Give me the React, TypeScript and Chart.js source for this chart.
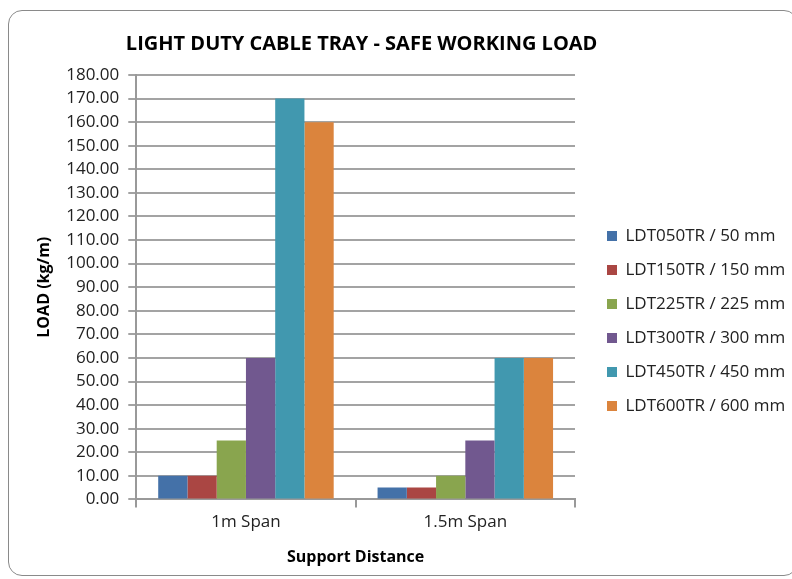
import { useEffect, useRef } from "react";
import { Chart, registerables } from "chart.js";

Chart.register(...registerables);

const chartTitle = "LIGHT DUTY CABLE TRAY - SAFE WORKING LOAD";
const categories = ["1m Span", "1.5m Span"];
const seriesNames = [
  "LDT050TR / 50 mm",
  "LDT150TR / 150 mm",
  "LDT225TR / 225 mm",
  "LDT300TR / 300 mm",
  "LDT450TR / 450 mm",
  "LDT600TR / 600 mm",
];
const ldt050 = [10, 5];
const ldt150 = [10, 5];
const ldt225 = [25, 10];
const ldt300 = [60, 25];
const ldt450 = [170, 60];
const ldt600 = [160, 60];
const seriesValues = [ldt050, ldt150, ldt225, ldt300, ldt450, ldt600];
const seriesColors = ["#4471A8", "#AA4643", "#89A54E", "#71588F", "#4198AF", "#DB843D"];
const yMin = 0;
const yMax = 180;
const yStep = 10;

const FONT = "'Open Sans', 'DejaVu Sans', sans-serif";

const titlePlugin = {
  id: "customTitle",
  afterDraw(chart: any) {
    const { ctx, chartArea } = chart;
    ctx.save();
    ctx.font = `bold 20px ${FONT}`;
    ctx.fillStyle = "#000";
    ctx.textAlign = "center";
    ctx.textBaseline = "middle";
    ctx.fillText(chartTitle, (chartArea.left + chartArea.right) / 2 + 6, 44);
    ctx.restore();
  },
};

export default function App() {
  const ref = useRef<HTMLCanvasElement | null>(null);

  useEffect(() => {
    if (!ref.current) return;
    const chart = new Chart(ref.current, {
      type: "bar",
      data: {
        labels: categories,
        datasets: seriesNames.map((name, i) => ({
          label: name,
          data: seriesValues[i],
          backgroundColor: seriesColors[i],
          borderWidth: 0,
          barPercentage: 1,
          categoryPercentage: 0.8,
        })),
      },
      options: {
        animation: false,
        responsive: false,
        layout: { padding: { top: 75, left: 35, right: 0, bottom: 12 } },
        plugins: {
          title: { display: false },
          tooltip: { enabled: false },
          legend: {
            position: "right",
            maxWidth: 202,
            labels: {
              boxWidth: 10,
              boxHeight: 10,
              padding: 17,
              color: "#222",
              font: { family: FONT, size: 17 },
            },
          },
        },
        scales: {
          x: {
            offset: true,
            grid: {
              offset: true,
              drawOnChartArea: false,
              drawTicks: true,
              tickLength: 8,
              color: "#999",
              lineWidth: 2,
            },
            border: { color: "#999", width: 2 },
            ticks: { color: "#222", font: { family: FONT, size: 17 }, padding: 5 },
            title: {
              display: true,
              text: "Support Distance",
              color: "#000",
              font: { family: FONT, size: 16, weight: "bold" },
              padding: { top: 10, bottom: 0 },
            },
          },
          y: {
            min: yMin,
            max: yMax,
            grid: { color: "#a3a3a3", lineWidth: 2, tickLength: 8 },
            border: { color: "#999", width: 2 },
            ticks: {
              stepSize: yStep,
              autoSkip: false,
              color: "#222",
              font: { family: FONT, size: 17 },
              padding: 9,
              callback: (v: any) => Number(v).toFixed(2),
            },
            title: {
              display: true,
              text: "LOAD (kg/m)",
              color: "#000",
              font: { family: FONT, size: 16, weight: "bold" },
              padding: { top: 0, bottom: 3 },
            },
          },
          gap: {
            type: "linear",
            position: "right",
            display: true,
            grid: { drawOnChartArea: false, drawTicks: false, display: false },
            border: { display: false },
            ticks: { display: false },
            afterFit: (scale: any) => {
              scale.width = 15;
            },
          },
        },
      },
      plugins: [titlePlugin],
    });
    return () => chart.destroy();
  }, []);

  return (
    <div style={{ position: "absolute", left: 0, top: 0, width: 792, height: 579, background: "#fff" }}>
      <div
        style={{
          position: "absolute",
          left: 8,
          top: 10,
          width: 790,
          height: 566,
          border: "1.5px solid #8a8a8a",
          borderRadius: 14,
          boxSizing: "border-box",
        }}
      />
      <canvas ref={ref} width={792} height={579} style={{ position: "absolute", left: 0, top: 0 }} />
    </div>
  );
}
